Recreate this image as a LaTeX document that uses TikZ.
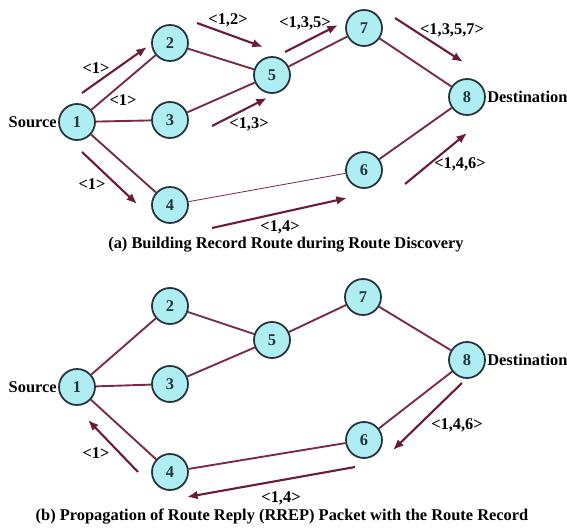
\documentclass[tikz,border=0pt]{standalone}
\usepackage{fontspec}
\setmainfont{Liberation Serif}
\usepackage{xcolor}
\usetikzlibrary{arrows.meta, positioning}
\definecolor{cyanfill}{HTML}{AEEEF3}
\definecolor{ring}{HTML}{26323E}
\definecolor{wire}{HTML}{7A2A42}
\definecolor{hopcol}{HTML}{6C1C32}

\begin{document}
\begin{tikzpicture}[x=0.3mm, y=-0.3mm, font=\fontsize{14}{16}\selectfont\bfseries,
    main/.style = {draw=ring, circle, line width=1.5pt, fill=cyanfill, text=ring, minimum size=10.8mm, inner sep=0pt},
    edge/.style = {draw=wire, line width=1.6pt},
    thinedge/.style = {draw=wire, line width=0.7pt},
    hop/.style = {draw=hopcol, line width=1.8pt, -{Latex[length=3.2mm, width=2.6mm]}},
    tag/.style = {inner sep=0pt, text=black}]
    \useasboundingbox (0,0) rectangle (567,528);
    % (a) route discovery
		\node [main] (a1) at (77, 122) {1};
		\node [main] (a2) at (170, 43) {2};
		\node [main] (a3) at (170, 120) {3};
		\node [main] (a4) at (170, 205) {4};
		\node [main] (a5) at (272, 75) {5};
		\node [main] (a6) at (364, 170) {6};
		\node [main] (a7) at (364, 28) {7};
		\node [main] (a8) at (467, 97) {8};
		\node [tag, left=1pt of a1] (srcA) {Source};
		\node [tag, right=1pt of a8] (dstA) {Destination};
		\draw [edge] (a1) to (a2);
		\draw [edge] (a1) to (a3);
		\draw [edge] (a1) to (a4);
		\draw [edge] (a2) to (a5);
		\draw [edge] (a3) to (a5);
		\draw [edge] (a5) to (a7);
		\draw [edge] (a7) to (a8);
		\draw [edge] (a8) to (a6);
		\draw [thinedge] (a6) to (a4);
		% record route arrows
		\coordinate (p1) at (82, 93);   \coordinate (q1) at (147, 47);
		\coordinate (p2) at (82, 152);  \coordinate (q2) at (137, 204);
		\coordinate (p3) at (197, 23);  \coordinate (q3) at (263, 47);
		\coordinate (p4) at (212, 126); \coordinate (q4) at (267, 98);
		\coordinate (p5) at (212, 228); \coordinate (q5) at (347, 198);
		\coordinate (p6) at (285, 52);  \coordinate (q6) at (338, 25);
		\coordinate (p7) at (395, 18);  \coordinate (q7) at (463, 62);
		\coordinate (p8) at (405, 184); \coordinate (q8) at (467, 133);
		\draw [hop] (p1) to (q1);
		\draw [hop] (p2) to (q2);
		\draw [hop] (p3) to (q3);
		\draw [hop] (p4) to (q4);
		\draw [hop] (p5) to (q5);
		\draw [hop] (p6) to (q6);
		\draw [hop] (p7) to (q7);
		\draw [hop] (p8) to (q8);
		\node [tag] (t1) at (96, 68) {<1>};
		\node [tag] (t2) at (123, 100) {<1>};
		\node [tag] (t3) at (92, 184) {<1>};
		\node [tag] (t4) at (228, 20) {<1,2>};
		\node [tag] (t5) at (249, 124) {<1,3>};
		\node [tag] (t6) at (280, 227) {<1,4>};
		\node [tag] (t7) at (305, 23) {<1,3,5>};
		\node [tag] (t8) at (452, 30) {<1,3,5,7>};
		\node [tag] (t9) at (460, 164) {<1,4,6>};
		\node [tag] (capA) at (286, 245) {(a) Building Record Route during Route Discovery};
    % (b) route reply
		\node [main] (b1) at (77, 387) {1};
		\node [main] (b2) at (170, 306) {2};
		\node [main] (b3) at (170, 384) {3};
		\node [main] (b4) at (170, 472) {4};
		\node [main] (b5) at (272, 340) {5};
		\node [main] (b6) at (364, 440) {6};
		\node [main] (b7) at (363, 297) {7};
		\node [main] (b8) at (467, 360) {8};
		\node [tag, left=1pt of b1] (srcB) {Source};
		\node [tag, right=1pt of b8] (dstB) {Destination};
		\draw [edge] (b1) to (b2);
		\draw [edge] (b1) to (b3);
		\draw [edge] (b1) to (b4);
		\draw [edge] (b2) to (b5);
		\draw [edge] (b3) to (b5);
		\draw [edge] (b5) to (b7);
		\draw [edge] (b7) to (b8);
		\draw [edge] (b8) to (b6);
		\draw [edge] (b6) to (b4);
		% reply arrows
		\coordinate (r1) at (138, 472); \coordinate (s1) at (88, 420);
		\coordinate (r2) at (355, 467); \coordinate (s2) at (187, 497);
		\coordinate (r3) at (462, 383); \coordinate (s3) at (393, 450);
		\draw [hop] (r1) to (s1);
		\draw [hop] (r2) to (s2);
		\draw [hop] (r3) to (s3);
		\node [tag] (u1) at (96, 453) {<1>};
		\node [tag] (u2) at (281, 498) {<1,4>};
		\node [tag] (u3) at (457, 425) {<1,4,6>};
		\node [tag] (capB) at (282, 517) {(b) Propagation of Route Reply (RREP) Packet with the Route Record};
\end{tikzpicture}
\end{document}
